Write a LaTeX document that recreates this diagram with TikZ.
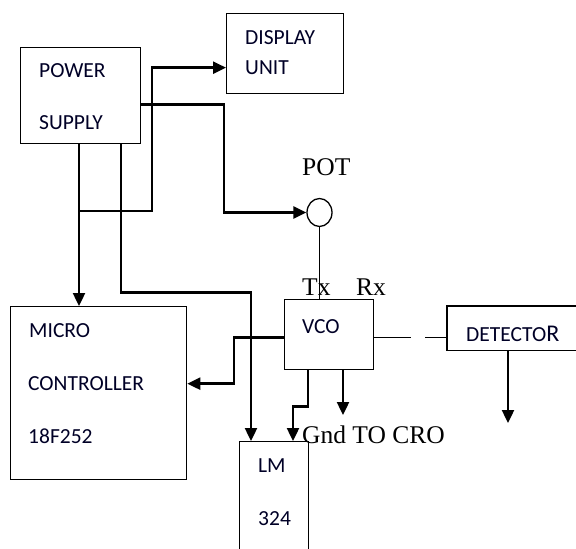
\documentclass[tikz,border=0pt]{standalone}
\usepackage{fontspec}
\usetikzlibrary{arrows.meta,shapes.geometric}
\newfontfamily\calfont{Carlito}
\newfontfamily\tmsfont{Liberation Serif}
\begin{document}
\begin{tikzpicture}[x=1pt,y=-1pt,
  box/.style={draw,line width=1.3pt,anchor=north west,inner sep=0pt,minimum width=#1},
  conn/.style={line width=2.4pt,-{Triangle[length=13pt,width=12pt]}},
  wire/.style={line width=1.1pt},
  lbl/.style={anchor=base west,inner sep=0pt,font=\calfont\fontsize{21.5}{25}\selectfont,text=black!85!blue},
  tlbl/.style={anchor=base west,inner sep=0pt,font=\tmsfont\fontsize{25.5}{30}\selectfont}]
\useasboundingbox (0,0) rectangle (576,549);
% boxes
\node[box=120pt,minimum height=96pt] (ps) at (20,47) {};
\node[box=117pt,minimum height=80pt] (disp) at (226,13) {};
\node[box=176pt,minimum height=173pt] (mc) at (10,306) {};
\node[box=89pt,minimum height=70pt] (vco) at (284,299) {};
\node[box=69pt,minimum height=130pt] (lm) at (239,441) {};
\node[draw,line width=1.3pt,ellipse,inner sep=0pt,minimum width=25pt,minimum height=28pt] (pot) at (319.5,212.5) {};
\node[anchor=north west,inner sep=0pt,minimum width=140pt,minimum height=44pt] (det) at (447,306) {};
\draw[line width=1.3pt] ([xshift=140pt]det.north west) -- (det.north west) -- (det.south west) -- ++(140,0);
% texts
\node[lbl] (t1) at (39,77) {POWER};
\node[lbl] (t2) at (39,129) {SUPPLY};
\node[lbl] (t3) at (245,44) {DISPLAY};
\node[lbl] (t4) at (245,74) {UNIT};
\node[lbl] (t5) at (302,333) {VCO};
\node[lbl] (t6) at (466,341) {DETECTO\fontsize{24}{28}\selectfont R};
\node[lbl] (t7) at (29,337) {MICRO};
\node[lbl] (t8) at (28,390) {CONTROLLER};
\node[lbl] (t9) at (28,443) {18F252};
\node[lbl] (t10) at (258,472) {LM};
\node[lbl] (t11) at (258,525) {324};
\node[tlbl] (t12) at (302,175) {POT};
\node[tlbl] (t13) at (302,295) {Tx};
\node[tlbl] (t14) at (356,295) {Rx};
\node[tlbl] (t15) at (302,443) {Gnd TO CRO};
% connectors
\coordinate (j1) at (79,211);
\draw[conn] ([xshift=59pt]ps.south west) -- ([xshift=69pt]mc.north west);
\draw[conn] (j1) -- ++(73,0) |- ([yshift=-14pt]disp.west);
\draw[conn] ([yshift=-9pt]ps.east) -| (224,212.5) -- (pot.west);
\draw[wire] (pot.south) -- (pot.south |- vco.north);
\draw[conn] ([xshift=101pt]ps.south west) -- ++(0,148) -| ([xshift=12pt]lm.north west);
\draw[conn] ([yshift=-3pt]vco.west) -- ++(-50,0) |- ([yshift=9.5pt]mc.east);
\draw[wire] ([yshift=-3pt]vco.east) -- ++(37,0);
\draw[wire] ([yshift=-9pt]det.west) -- ++(-22,0);
\coordinate (detout) at (508,423);
\draw[conn] ([xshift=61pt]det.south west) -- (detout);
\draw[conn] ([xshift=24pt]vco.south west) -- ++(0,36) -| ([xshift=54pt]lm.north west);
\coordinate (croout) at (343,415);
\draw[conn] ([xshift=59pt]vco.south west) -- (croout);
\end{tikzpicture}
\end{document}
